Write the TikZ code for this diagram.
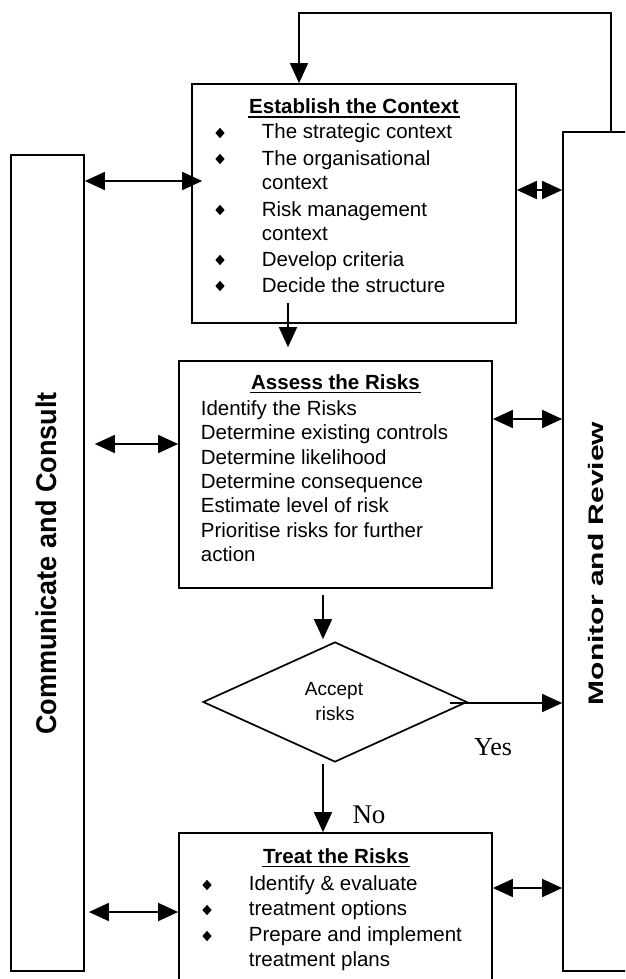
\documentclass[tikz,border=0pt]{standalone}
\usepackage{fontspec}
\usepackage{graphicx}
\setmainfont{Liberation Serif}
\newfontfamily\arial{Liberation Sans}
\usetikzlibrary{arrows.meta,shapes.geometric}
\begin{document}
\begin{tikzpicture}[x=1pt,y=-1pt,line width=1.7pt,
  panel/.style={draw,rectangle,inner sep=0pt},
  dbl/.style={{Triangle[length=20pt,width=18pt]}-{Triangle[length=20pt,width=18pt]}},
  one/.style={-{Triangle[length=20pt,width=18pt]}},
  txt/.style={font=\arial\fontsize{20.5}{25}\selectfont,inner sep=0pt,anchor=base west},
  ttl/.style={font=\arial\bfseries\fontsize{20.5}{25}\selectfont,inner sep=0pt,anchor=base},
  bul/.style={shape=diamond,fill=black,draw=none,inner sep=0pt,minimum width=10pt,minimum height=11pt},
  uline/.style={line width=1.2pt}]
\useasboundingbox (0,0) rectangle (625,979);
\clip (0,0) rectangle (625,979);

% boxes
\node[panel,minimum width=73pt,minimum height=816pt] (lc) at (47.5,563) {};
\node[panel,minimum width=77pt,minimum height=839pt] (rc) at (601.5,551.5) {};
\node[panel,minimum width=324pt,minimum height=239pt] (est) at (354,203.5) {};
\node[panel,minimum width=313pt,minimum height=227pt] (ass) at (335.5,474.5) {};
\node[panel,minimum width=313pt,minimum height=157pt] (trt) at (335.5,911.5) {};
\node[draw,shape=diamond,inner sep=0pt,minimum width=264pt,minimum height=120pt] (dia) at (335,702) {};

% column labels
\node[rotate=90,anchor=base,inner sep=0pt,font=\arial\bfseries\fontsize{28.5}{30}\selectfont] (lcl) at (56,563.5) {\scalebox{0.95}[1]{Communicate and Consult}};
\node[rotate=90,anchor=base,inner sep=0pt,font=\arial\bfseries\fontsize{21}{25}\selectfont] (rcl) at (603,563.5) {\scalebox{1.43}[1]{Monitor and Review}};

% Establish the context
\node[ttl] (et) at (354,113.5) {Establish the Context};
\draw[uline] ([yshift=-3.5pt]et.base west) -- ([yshift=-3.5pt]et.base east);
\node[bul] (eb1) at (220,133) {};
\node[bul] (eb2) at (220,159) {};
\node[bul] (eb3) at (220,210) {};
\node[bul] (eb4) at (220,260) {};
\node[bul] (eb5) at (220,286) {};
\node[txt] (e1) at (261,139) {The strategic context};
\node[txt] (e2) at (261,165) {The organisational};
\node[txt] (e3) at (261,189.5) {context};
\node[txt] (e4) at (261,216) {Risk management};
\node[txt] (e5) at (261,240.5) {context};
\node[txt] (e6) at (261,266) {Develop criteria};
\node[txt] (e7) at (261,292) {Decide the structure};

% Assess the risks
\node[ttl] (at) at (335.5,389) {Assess the Risks};
\draw[uline] ([yshift=-3.5pt]at.base west) -- ([yshift=-3.5pt]at.base east);
\node[txt] (a1) at (200,415) {Identify the Risks};
\node[txt] (a2) at (200,439.5) {Determine existing controls};
\node[txt] (a3) at (200,464) {Determine likelihood};
\node[txt] (a4) at (200,488) {Determine consequence};
\node[txt] (a5) at (200,512.5) {Estimate level of risk};
\node[txt] (a6) at (200,537) {Prioritise risks for further};
\node[txt] (a7) at (200,561) {action};

% Accept risks
\node[inner sep=0pt,anchor=base,font=\arial\fontsize{19}{25}\selectfont] (d1) at (334,695) {Accept};
\node[inner sep=0pt,anchor=base,font=\arial\fontsize{19}{25}\selectfont] (d2) at (335,720) {risks};
\node[inner sep=0pt,anchor=base,font=\fontsize{26}{30}\selectfont] (yes) at (493,755) {Yes};
\node[inner sep=0pt,anchor=base,font=\fontsize{27}{30}\selectfont] (no) at (369,823) {No};

% Treat the risks
\node[ttl] (tt) at (336,863) {Treat the Risks};
\draw[uline] ([yshift=-3.5pt]tt.base west) -- ([yshift=-3.5pt]tt.base east);
\node[bul] (tb1) at (207,885) {};
\node[bul] (tb2) at (207,910) {};
\node[bul] (tb3) at (207,936) {};
\node[txt] (t1) at (248,890) {Identify \& evaluate};
\node[txt] (t2) at (248,915.5) {treatment options};
\node[txt] (t3) at (248,941) {Prepare and implement};
\node[txt] (t4) at (248,966) {treatment plans};

% connectors
\coordinate (loopA) at (611,13);
\coordinate (loopB) at (299,13);
\draw[one] (rc.north -| loopA) -- (loopA) -- (loopB) -- (loopB |- est.north);

\coordinate (h1) at (0,181);
\draw[dbl,shorten >=-11pt] (lc.east |- h1) -- (est.west |- h1);
\coordinate (h2) at (0,190);
\draw[dbl] (est.east |- h2) -- (rc.west |- h2);
\coordinate (v1) at (288,303);
\draw[one,shorten >=13pt] (v1) -- (v1 |- ass.north);
\coordinate (h3) at (0,444);
\draw[dbl,shorten <=10pt] (lc.east |- h3) -- (ass.west |- h3);
\coordinate (h4) at (0,419);
\draw[dbl] (ass.east |- h4) -- (rc.west |- h4);
\coordinate (v2) at (323,0);
\draw[one,shorten <=6pt,shorten >=2pt] (ass.south -| v2) -- (v2 |- dia.north);
\coordinate (h5) at (450,703);
\draw[one] (h5) -- (rc.west |- h5);
\draw[one,shorten <=1pt] (dia.south -| v2) -- (v2 |- trt.north);
\coordinate (h6) at (0,912);
\draw[dbl,shorten <=4pt] (lc.east |- h6) -- (trt.west |- h6);
\coordinate (h7) at (0,888);
\draw[dbl] (trt.east |- h7) -- (rc.west |- h7);
\end{tikzpicture}
\end{document}
